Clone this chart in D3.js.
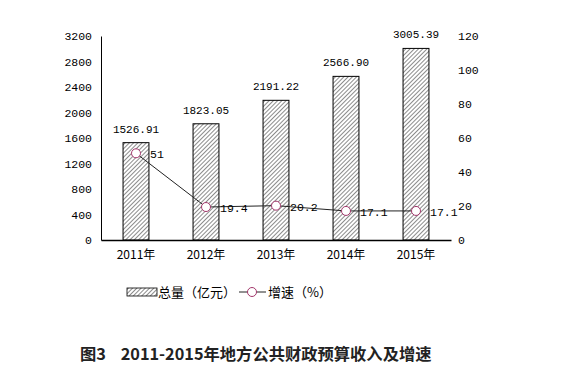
<!DOCTYPE html>
<html><head><meta charset="utf-8">
<script src="https://cdn.jsdelivr.net/npm/d3@7"></script>
<style>body{margin:0;background:#fff}</style>
</head><body>
<script>
const categories = ["2011年","2012年","2013年","2014年","2015年"];
const totals = [1526.91,1823.05,2191.22,2566.90,3005.39];
const totalLabels = ["1526.91","1823.05","2191.22","2566.90","3005.39"];
const growth = [51,19.4,20.2,17.1,17.1];
const growthLabels = ["51","19.4","20.2","17.1","17.1"];
const leftTicks = [0,400,800,1200,1600,2000,2400,2800,3200];
const rightTicks = [0,20,40,60,80,100,120];

const W=575,H=392;
const svg=d3.select("body").append("svg").attr("width",W).attr("height",H);
const defs=svg.append("defs");
const pat=defs.append("pattern").attr("id","hatch").attr("patternUnits","userSpaceOnUse")
  .attr("width",3).attr("height",3).attr("patternTransform","rotate(45)");
pat.append("rect").attr("width",3).attr("height",3).attr("fill","#fff");
pat.append("line").attr("x1",0).attr("y1",0).attr("x2",0).attr("y2",3).attr("stroke","#000").attr("stroke-width",0.9);

const mono="'Liberation Mono','DejaVu Sans Mono',monospace";
const x=d3.scaleBand().domain(categories).range([101,451]).paddingInner(0.63).paddingOuter(0.315);
const yL=d3.scaleLinear().domain([0,3200]).range([240,36]);
const yR=d3.scaleLinear().domain([0,120]).range([240,36]);

// left axis
const gl=svg.append("g").attr("transform","translate(101,0)")
  .call(d3.axisLeft(yL).tickValues(leftTicks).tickFormat(d3.format("d")).tickSize(0).tickPadding(9));
gl.select(".domain").attr("stroke","#000");
gl.selectAll("text").attr("font-family",mono).attr("font-size",11.5).attr("fill","#000");

// right axis
const gr=svg.append("g").attr("transform","translate(451,0)")
  .call(d3.axisRight(yR).tickValues(rightTicks).tickFormat(d3.format("d")).tickSize(0).tickPadding(7));
gr.select(".domain").remove();
gr.selectAll("text").attr("font-family",mono).attr("font-size",11.5).attr("fill","#000");

// bars
svg.selectAll("rect.bar").data(totals).join("rect").attr("class","bar")
  .attr("x",(d,i)=>x(categories[i])).attr("width",x.bandwidth())
  .attr("y",d=>yL(d)).attr("height",d=>yL(0)-yL(d))
  .attr("fill","url(#hatch)").attr("stroke","#000").attr("stroke-width",1);

svg.selectAll("text.blab").data(totals).join("text").attr("class","blab")
  .attr("x",(d,i)=>x(categories[i])+x.bandwidth()/2).attr("y",d=>yL(d)-10)
  .attr("text-anchor","middle").attr("font-family",mono).attr("font-size",11)
  .text((d,i)=>totalLabels[i]);

// x axis
const gx=svg.append("g").attr("transform","translate(0,240)")
  .call(d3.axisBottom(x).tickSize(0).tickPadding(10));
gx.select(".domain").attr("stroke","#000").attr("stroke-width",1.5);
gx.selectAll("text").attr("font-family","'Noto Sans CJK SC',sans-serif").attr("font-size",12).attr("fill","#000");

// line
const cx=(i)=>x(categories[i])+x.bandwidth()/2;
const line=d3.line().x((d,i)=>cx(i)).y(d=>yR(d));
svg.append("path").datum(growth).attr("d",line).attr("fill","none").attr("stroke","#222").attr("stroke-width",1);
svg.selectAll("circle.pt").data(growth).join("circle").attr("class","pt")
  .attr("cx",(d,i)=>cx(i)).attr("cy",d=>yR(d)).attr("r",4.5)
  .attr("fill","#fff").attr("stroke","#a3366b").attr("stroke-width",1);
svg.selectAll("text.glab").data(growth).join("text").attr("class","glab")
  .attr("x",(d,i)=>cx(i)+14).attr("y",d=>yR(d)+5)
  .attr("font-family",mono).attr("font-size",11.5)
  .text((d,i)=>growthLabels[i]);

// legend
const lg=svg.append("g");
lg.append("rect").attr("x",127).attr("y",288).attr("width",30).attr("height",8)
  .attr("fill","url(#hatch)").attr("stroke","#000").attr("stroke-width",0.8);
lg.append("text").attr("x",158).attr("y",297).attr("font-family","'Noto Sans CJK SC',sans-serif").attr("font-size",13).text("总量（亿元）");
lg.append("line").attr("x1",239).attr("x2",266).attr("y1",292).attr("y2",292).attr("stroke","#222");
lg.append("circle").attr("cx",252).attr("cy",292).attr("r",4.5).attr("fill","#fff").attr("stroke","#a3366b");
lg.append("text").attr("x",268).attr("y",297).attr("font-family","'Noto Sans CJK SC',sans-serif").attr("font-size",13).text("增速（%）");

// title
svg.append("text").attr("x",80).attr("y",360).attr("font-family","'Noto Sans CJK SC',sans-serif")
  .attr("font-weight","bold").attr("font-size",16.3).attr("fill","#222")
  .attr("xml:space","preserve").style("white-space","pre")
  .text("图3    2011-2015年地方公共财政预算收入及增速");
</script>
</body></html>
